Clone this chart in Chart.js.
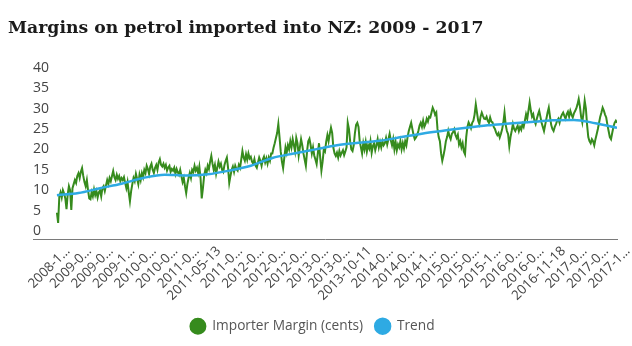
<!DOCTYPE html>
<html>
<head>
<meta charset="utf-8">
<script src="https://cdn.jsdelivr.net/npm/chart.js@4"></script>
<style>
  html, body { margin: 0; padding: 0; background: #fff; }
</style>
</head>
<body>
<canvas id="myChart" width="632" height="346"></canvas>
<script>
// weekly data, first week 2008-12-12; one shown tick every 18 weeks
const weeksPerTick = 18;

const tickLabels = [
    '2008-1…', '2009-0…', '2009-0…', '2009-1…', '2010-0…', '2010-0…', '2011-0…',
    '2011-05-13', '2011-0…', '2012-0…', '2012-0…', '2012-0…', '2013-0…', '2013-0…',
    '2013-10-11', '2014-0…', '2014-0…', '2014-1…', '2015-0…', '2015-0…', '2015-1…',
    '2016-0…', '2016-0…', '2016-11-18', '2017-0…', '2017-0…', '2017-1…'
];

const yTicks = [0, 5, 10, 15, 20, 25, 30, 35, 40];

// importer margin (cents/litre), one row per 18 weeks
const margin = [
    5.5, 3.0, 9.5, 10.5, 9.2, 11.0, 10.2, 9.0, 6.4, 10.0, 12.0, 11.0, 6.2, 11.5, 12.5, 13.5, 12.8, 14.5,
    15.2, 14.0, 15.5, 16.4, 14.5, 13.0, 12.0, 13.5, 11.0, 9.0, 8.8, 10.5, 9.5, 11.2, 9.8, 10.8, 9.2, 10.5,
    11.0, 9.5, 11.5, 12.0, 10.8, 12.2, 13.5, 12.5, 14.0, 13.2, 14.5, 15.7, 14.2, 13.5, 14.8, 13.8, 14.5, 13.2,
    14.0, 13.5, 14.2, 12.8, 11.5, 13.0, 10.5, 8.3, 10.8, 12.5, 14.0, 13.2, 15.0, 13.8, 12.5, 14.8, 13.5, 15.2,
    14.2, 16.0, 15.2, 17.0, 16.2, 15.0, 16.8, 17.5, 16.0, 15.2, 16.5, 17.2, 16.0, 17.8, 18.6, 17.2, 16.8, 17.5,
    16.5, 17.2, 15.8, 16.6, 17.0, 15.5, 16.2, 15.8, 16.5, 15.0, 16.2, 15.4, 14.8, 16.0, 14.5, 13.0, 14.0, 12.0,
    10.3, 12.5, 14.0, 15.2, 14.0, 16.0, 15.5, 17.0, 15.8, 16.5, 15.2, 16.8, 14.0, 9.0, 11.5, 14.5, 16.0, 15.2,
    17.0, 16.2, 18.0, 19.4, 17.5, 16.0, 17.2, 15.0, 16.5, 18.0, 16.8, 17.5, 16.0, 15.5, 17.2, 18.2, 19.0, 16.5,
    12.8, 14.5, 16.0, 16.8, 15.5, 17.0, 16.2, 15.8, 17.2, 16.5, 18.5, 20.6, 19.0, 18.2, 19.8, 18.5, 20.0, 18.8,
    19.2, 18.0, 17.5, 18.6, 17.0, 16.5, 17.8, 19.0, 18.2, 17.0, 18.5, 19.2, 17.8, 18.8, 17.5, 19.0, 18.2, 20.0,
    20.0, 21.4, 22.5, 23.8, 25.0, 27.2, 24.0, 20.5, 18.0, 16.4, 19.0, 21.5, 20.2, 22.0, 21.0, 23.0, 21.5, 23.5,
    22.0, 20.5, 23.8, 22.5, 19.5, 21.5, 23.5, 22.0, 20.0, 18.5, 17.0, 20.5, 23.0, 23.6, 22.0, 20.0, 21.5, 19.5,
    18.5, 17.4, 20.0, 22.5, 19.0, 15.8, 18.0, 21.0, 20.5, 22.9, 24.5, 23.0, 24.8, 26.3, 25.0, 21.4, 20.0, 19.4,
    20.2, 19.0, 20.6, 19.5, 20.2, 20.8, 19.6, 20.5, 21.5, 27.5, 26.0, 23.0, 21.0, 20.6, 22.0, 25.0, 27.0, 27.5,
    26.5, 23.0, 21.5, 20.0, 22.5, 21.0, 22.8, 20.5, 22.0, 21.2, 23.0, 20.2, 21.8, 22.5, 20.8, 22.0, 23.5, 21.5,
    22.8, 21.5, 23.0, 22.0, 22.5, 23.8, 22.2, 23.5, 24.8, 23.2, 22.0, 23.5, 21.0, 22.8, 20.8, 22.2, 21.5, 23.0,
    21.0, 22.5, 21.2, 23.0, 22.0, 24.0, 25.5, 26.5, 27.5, 26.0, 24.5, 23.5, 23.9, 24.5, 25.5, 26.8, 27.5, 26.5,
    28.0, 26.5, 27.2, 28.5, 27.8, 29.0, 28.8, 30.0, 31.2, 30.5, 29.5, 30.0, 26.0, 24.0, 23.0, 20.0, 18.2, 19.5,
    21.0, 23.0, 24.0, 25.5, 24.2, 23.5, 24.8, 25.2, 25.9, 24.5, 23.8, 24.6, 22.2, 23.0, 21.5, 22.5, 20.5, 19.8,
    24.0, 26.5, 27.6, 27.0, 26.2, 27.5, 28.0, 29.5, 32.0, 30.0, 28.0, 27.2, 29.0, 30.0, 29.2, 28.5, 28.4, 29.0,
    28.0, 27.5, 28.8, 27.8, 27.6, 26.5, 26.0, 25.1, 24.5, 25.0, 23.9, 24.8, 25.9, 27.5, 30.0, 27.0, 25.5, 24.7,
    21.8, 24.0, 25.5, 27.2, 26.0, 25.5, 26.2, 26.8, 25.5, 26.5, 25.8, 27.2, 26.5, 28.0, 29.6, 28.5, 30.5, 32.5,
    30.5, 29.0, 29.6, 28.0, 27.2, 28.5, 29.5, 30.4, 29.0, 27.5, 26.5, 25.5, 27.0, 28.5, 30.0, 31.2, 29.0, 27.0,
    26.0, 25.5, 26.5, 27.2, 28.0, 28.5, 27.5, 28.8, 29.5, 30.0, 29.2, 28.5, 29.6, 30.2, 29.0, 30.4, 29.5, 28.8,
    29.8, 30.4, 31.0, 32.0, 33.3, 31.5, 29.0, 27.6, 30.0, 32.9, 31.0, 27.0, 24.0, 23.0, 22.5, 23.5, 23.0, 22.0,
    23.5, 24.7, 26.0, 27.5, 29.0, 30.0, 31.2, 30.5, 29.5, 28.8, 27.0, 25.5, 24.0, 23.5, 25.0, 26.5, 27.5, 28.0,
    27.5
];

// trend value at each shown tick
const trend = [
    9.8, 10.3, 11.5, 12.6, 14.0, 14.8, 14.6, 14.9, 15.8, 17.0, 18.9, 20.0, 21.0, 22.0,
    22.6, 23.1, 24.0, 24.9, 25.6, 26.3, 26.9, 27.3, 27.7, 28.1, 28.2, 27.4, 26.3
];

const green = '#368b1d';
const blue = '#2eaae3';

const data = {
    datasets: [{
        label: 'Importer Margin (cents)',
        data: margin.map((v, i) => ({ x: i, y: v })),
        borderColor: green,
        backgroundColor: green,
        borderWidth: 2,
        pointRadius: 0,
        tension: 0,
        order: 1
    }, {
        label: 'Trend',
        data: trend.map((v, k) => ({ x: k * weeksPerTick, y: v })),
        borderColor: blue,
        backgroundColor: blue,
        borderWidth: 2.5,
        pointRadius: 0,
        cubicInterpolationMode: 'monotone',
        order: 0
    }]
};

const config = {
    type: 'line',
    data: data,
    options: {
        responsive: false,
        animation: false,
        events: [],
        layout: { padding: { left: 8, right: 15, top: 0, bottom: 3 } },
        scales: {
            x: {
                type: 'linear',
                min: -20,
                max: margin.length - 1,
                grid: { display: false, drawTicks: false },
                border: { display: true, color: '#7a7a7a', width: 1 },
                afterBuildTicks: s => { s.ticks = tickLabels.map((_, k) => ({ value: k * weeksPerTick })); },
                afterFit: s => { s.height = 68; s.paddingLeft = 0; s.paddingRight = 0; },
                ticks: {
                    autoSkip: false,
                    minRotation: 45,
                    maxRotation: 45,
                    padding: 4,
                    labelOffset: 11,
                    color: '#444',
                    font: { family: 'Open Sans', size: 13.3 },
                    callback: (v, i) => tickLabels[i]
                }
            },
            y: {
                min: -1,
                max: 40,
                grid: { display: false, drawTicks: false },
                border: { display: false },
                afterBuildTicks: s => { s.ticks = yTicks.map(v => ({ value: v })); },
                afterFit: s => { s.width = 25; s.paddingTop = 0; s.paddingBottom = 0; },
                ticks: {
                    mirror: true,
                    padding: 0,
                    labelOffset: -4,
                    color: '#444',
                    font: { family: 'Open Sans', size: 14 }
                }
            }
        },
        plugins: {
            title: {
                display: true,
                text: 'Margins on petrol imported into NZ: 2009 - 2017',
                align: 'start',
                color: '#1b1b1b',
                font: { family: 'DejaVu Serif', size: 17.25, weight: 'bold' },
                padding: { top: 18, bottom: 33 }
            },
            legend: {
                position: 'bottom',
                labels: {
                    usePointStyle: true,
                    pointStyleWidth: 15,
                    boxHeight: 10.6,
                    padding: 12,
                    color: '#555',
                    font: { family: 'Open Sans', size: 13.7 },
                    sort: (a, b) => a.datasetIndex - b.datasetIndex
                }
            },
            tooltip: { enabled: false }
        }
    }
};

let myChart = new Chart(document.getElementById('myChart'), config);
</script>
</body>
</html>
